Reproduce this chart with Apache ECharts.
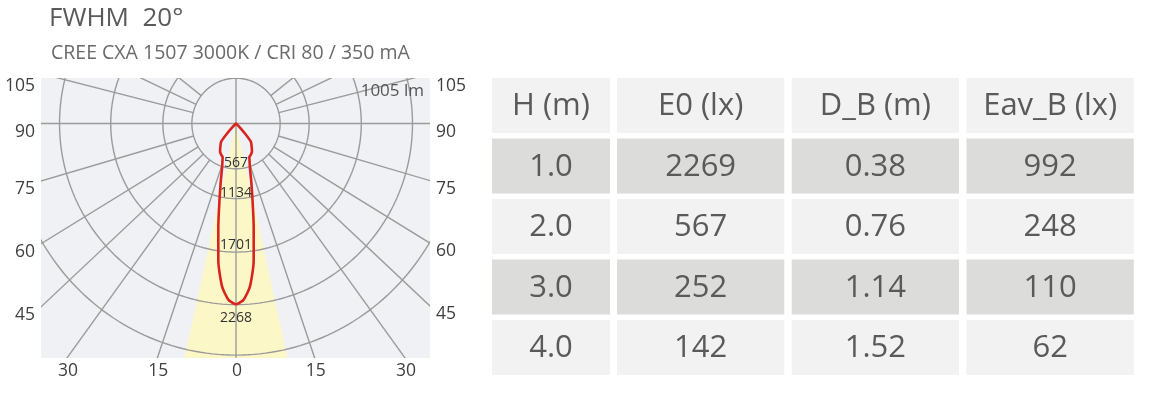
<!DOCTYPE html>
<html><head><meta charset="utf-8">
<script src="https://cdn.jsdelivr.net/npm/echarts@6/dist/echarts.min.js"></script>
<style>html,body{margin:0;padding:0;background:#fff;}#c{width:1150px;height:395px;}</style>
</head><body><div id="c"></div>
<script>
// ---------------- data ----------------
const titleText = 'FWHM  20°';
const subtitleText = 'CREE CXA 1507 3000K / CRI 80 / 350 mA';
const fluxLabel = '1005 lm';
// luminous intensity (cd) vs angle from nadir (deg), symmetric
const curveAngles    = [0, 2.5, 5, 7.5, 10, 12.5, 15, 17.5, 20, 22.5, 25, 27.5, 30, 35, 40, 42.5, 45, 47.5];
const curveIntensity = [2269, 2210, 2050, 1740, 1310, 980, 760, 600, 510, 450, 440, 425, 410, 350, 297, 170, 60, 10];
const beamHalfAngle = 12.7;
const ringValues = [567, 940, 1610, 2268, 2900];
const ringLabels = ['567', '1134', '1701', '2268'];
const spokeAngles = [19, 36.5, 47.5, 59, 74, 104, 115, 128];
const sideLabels = ['105', '90', '75', '60', '45'];
const sideLabelAngles = [104, 90, 74, 59, 47.5];
const bottomLabels = ['30', '15', '0', '15', '30'];
const bottomLabelAngles = [-36.5, -19, 0, 19, 36.5];
// table
const tableHeaders = ['H (m)', 'E0 (lx)', 'D_B (m)', 'Eav_B (lx)'];
const heightsM = ['1.0', '2.0', '3.0', '4.0'];
const e0Lux = ['2269', '567', '252', '142'];
const beamDiameterM = ['0.38', '0.76', '1.14', '1.52'];
const eavLux = ['992', '248', '110', '62'];

// ---------------- layout / helpers ----------------
const X_MIN = -2506, X_MAX = 2493, Y_MIN = -2936, Y_MAX = 570;
const FONT = '"Open Sans", "Noto Sans", sans-serif';
const GRID_COLOR = '#9b9b9b';
const rad = d => d * Math.PI / 180;
const polarPt = (angleDeg, r) => [r * Math.sin(rad(angleDeg)), -r * Math.cos(rad(angleDeg))];

// curve points: left side (negative angles) from nadir up, then right side back down
const curvePts = [];
for (let i = 0; i < curveAngles.length; i++) curvePts.push(polarPt(-curveAngles[i], curveIntensity[i]));
curvePts.push([0, 0]);
for (let i = curveAngles.length - 1; i >= 0; i--) curvePts.push(polarPt(curveAngles[i], curveIntensity[i]));

// spokes: [angle, r0, r1]
const spokeData = [[0, -9000, 9000, 0], [90, -9000, 9000, 0]];
spokeAngles.forEach(a => { spokeData.push([a, ringValues[0], 9000, 0]); spokeData.push([-a, ringValues[0], 9000, 0]); });

const chart = echarts.init(document.getElementById('c'), null, {renderer: 'canvas'});

function textEl(x, y, text, size, color, align) {
  return {type: 'text', x: x, y: y, style: {text: text, fill: color, fontSize: size, fontFamily: FONT, align: align || 'center', verticalAlign: 'middle'}};
}

// label items
const labelItems = [];
sideLabels.forEach((t, i) => {
  const a = sideLabelAngles[i];
  const s = Math.sin(rad(a)), c = Math.cos(rad(a));
  let yl = -c * (-X_MIN / s); if (yl > Y_MAX) yl = Y_MAX;
  let yr = -c * (X_MAX / s); if (yr > Y_MAX) yr = Y_MAX;
  labelItems.push({kind: 'sideL', x: X_MIN, y: yl, t: t});
  labelItems.push({kind: 'sideR', x: X_MAX, y: yr, t: t});
});
bottomLabels.forEach((t, i) => {
  const a = bottomLabelAngles[i];
  const x = Math.tan(rad(a)) * (-Y_MIN);
  labelItems.push({kind: 'bottom', x: x, y: Y_MIN, t: t});
});
const ringLabelOffsets = [-5.5, -5.5, -7, 13];
ringLabels.forEach((t, i) => labelItems.push({kind: 'ring', x: 0, y: -ringValues[i], t: t, off: ringLabelOffsets[i]}));

// table data
const rowsCats = ['hdr'].concat(heightsM);
const firstColCells = [tableHeaders[0]].concat(heightsM).map((t, r) => [0, r, t]);
const otherCols = [e0Lux, beamDiameterM, eavLux];
const otherCells = [];
otherCols.forEach((col, c) => {
  otherCells.push([c, 0, tableHeaders[c + 1]]);
  col.forEach((v, r) => otherCells.push([c, r + 1, v]));
});

function cellItem(params, api, cells) {
  const c = api.value(0), r = api.value(1);
  const txt = cells[params.dataIndex][2];
  const p = api.coord([c, r]);
  const sz = api.size([1, 1]);
  const w = sz[0] - 7.5, h = sz[1] - 5.5;
  const fill = (r === 1 || r === 3) ? '#dcdcda' : '#f2f2f2';
  return {type: 'group', children: [
    {type: 'rect', shape: {x: p[0] - w / 2, y: p[1] - h / 2, width: w, height: h}, style: {fill: fill}},
    textEl(p[0], p[1] + 1, txt, 31, '#5a5a5a', 'center')
  ]};
}

const option = {
  animation: false,
  backgroundColor: '#ffffff',
  title: [
    {text: titleText, left: 49, top: 6, padding: 0, textStyle: {fontFamily: FONT, fontSize: 26, fontWeight: 'normal', color: '#5a5a5a'}},
    {text: subtitleText, left: 51, top: 43, padding: 0, textStyle: {fontFamily: FONT, fontSize: 19.5, fontWeight: 'normal', color: '#6a6a6a'}},
    {text: fluxLabel, right: 726, top: 83, padding: 0, textStyle: {fontFamily: FONT, fontSize: 17, fontWeight: 'normal', color: '#555555'}}
  ],
  grid: [
    {left: 41, top: 78, width: 389, height: 280, show: true, backgroundColor: '#f0f1f4', borderWidth: 0},
    {left: 488.25, top: 75.25, width: 125.5, height: 302.5},
    {left: 613.25, top: 75.25, width: 524.25, height: 302.5}
  ],
  xAxis: [
    {type: 'value', gridIndex: 0, min: X_MIN, max: X_MAX, show: false},
    {type: 'category', gridIndex: 1, data: [tableHeaders[0]], show: false},
    {type: 'category', gridIndex: 2, data: tableHeaders.slice(1), show: false}
  ],
  yAxis: [
    {type: 'value', gridIndex: 0, min: Y_MIN, max: Y_MAX, show: false},
    {type: 'category', gridIndex: 1, data: rowsCats, inverse: true, show: false},
    {type: 'category', gridIndex: 2, data: rowsCats, inverse: true, show: false}
  ],
  series: [
    { // beam cone
      type: 'custom', xAxisIndex: 0, yAxisIndex: 0, clip: true, z: 1, silent: true,
      data: [[0, 0, beamHalfAngle]],
      renderItem: (params, api) => {
        const a = api.value(2);
        return {type: 'polygon', shape: {points: [api.coord([0, 0]), api.coord(polarPt(-a, 9000)), api.coord(polarPt(a, 9000))]}, style: {fill: '#fcf7c6'}};
      }
    },
    { // rings
      type: 'custom', xAxisIndex: 0, yAxisIndex: 0, clip: true, z: 2, silent: true,
      data: ringValues.map(v => [0, 0, v]),
      renderItem: (params, api) => {
        const r = api.value(2); const pts = [];
        for (let a = 0; a <= 360; a += 1.5) pts.push(api.coord(polarPt(a, r)));
        return {type: 'polyline', shape: {points: pts}, style: {stroke: GRID_COLOR, lineWidth: 1.4, fill: null}};
      }
    },
    { // spokes
      type: 'custom', xAxisIndex: 0, yAxisIndex: 0, clip: true, z: 2, silent: true,
      data: spokeData,
      renderItem: (params, api) => {
        const a = api.value(0), r0 = api.value(1), r1 = api.value(2);
        return {type: 'polyline', shape: {points: [api.coord(polarPt(a, r0)), api.coord(polarPt(a, r1))]}, style: {stroke: GRID_COLOR, lineWidth: 1.4, fill: null}};
      }
    },
    { // intensity curve
      type: 'line', xAxisIndex: 0, yAxisIndex: 0, z: 3, data: curvePts, showSymbol: false, smooth: 0.2,
      lineStyle: {color: '#d9231f', width: 2.6}, silent: true
    },
    { // labels
      type: 'custom', xAxisIndex: 0, yAxisIndex: 0, clip: false, z: 4, silent: true,
      data: labelItems.map(d => [d.x, d.y]),
      renderItem: (params, api) => {
        const d = labelItems[params.dataIndex];
        const p = api.coord([d.x, d.y]);
        if (d.kind === 'sideL') return textEl(p[0] - 6, p[1] + 8, d.t, 17.5, '#3f3f3f', 'right');
        if (d.kind === 'sideR') return textEl(p[0] + 6, p[1] + 8, d.t, 17.5, '#3f3f3f', 'left');
        if (d.kind === 'bottom') return textEl(p[0] + 1, p[1] + 13, d.t, 17.5, '#3f3f3f', 'center');
        return textEl(p[0], p[1] + d.off, d.t, 14, '#333333', 'center');
      }
    },
    { // table first column
      type: 'custom', xAxisIndex: 1, yAxisIndex: 1, silent: true,
      data: firstColCells.map(d => [d[0], d[1]]),
      renderItem: (params, api) => cellItem(params, api, firstColCells)
    },
    { // table other columns
      type: 'custom', xAxisIndex: 2, yAxisIndex: 2, silent: true,
      data: otherCells.map(d => [d[0], d[1]]),
      renderItem: (params, api) => cellItem(params, api, otherCells)
    }
  ]
};
chart.setOption(option);
</script>
</body></html>
